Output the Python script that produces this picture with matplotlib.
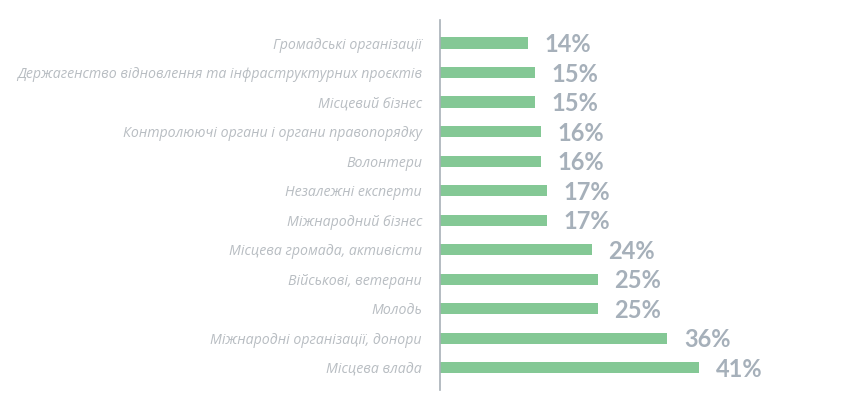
import matplotlib.pyplot as plt

categories = [
    'Громадські організації',
    'Держагенство відновлення та інфраструктурних проєктів',
    'Місцевий бізнес',
    'Контролюючі органи і органи правопорядку',
    'Волонтери',
    'Незалежні експерти',
    'Міжнародний бізнес',
    'Місцева громада, активісти',
    'Військові, ветерани',
    'Молодь',
    'Міжнародні організації, донори',
    'Місцева влада',
]
values = [14, 15, 15, 16, 16, 17, 17, 24, 25, 25, 36, 41]

fig = plt.figure(figsize=(8.64, 4.0), dpi=100)
ax = fig.add_axes([440 / 864, 10 / 400, 424 / 864, 370 / 400])

pos = list(range(len(categories)))
ax.barh(pos, values, height=0.38, color='#84c895')

for p, v in zip(pos, values):
    ax.text(v + 2.6, p + 0.05, f'{v}%', va='center', ha='left',
            fontsize=17, fontweight='bold', color='#a6b0ba', family='Lato')

ax.set_xlim(0, 67.1)
ax.set_ylim(11.75, -0.78)
ax.set_yticks(pos)
ax.set_yticklabels(categories, fontsize=10.2, fontstyle='italic',
                   color='#b8bdc2', family='Open Sans')
ax.tick_params(axis='y', length=0, pad=13)
ax.set_xticks([])

for s in ['top', 'right', 'bottom']:
    ax.spines[s].set_visible(False)
ax.spines['left'].set_color('#a8b0b8')
ax.spines['left'].set_linewidth(1.2)

fig.savefig('out.png', dpi=100)
